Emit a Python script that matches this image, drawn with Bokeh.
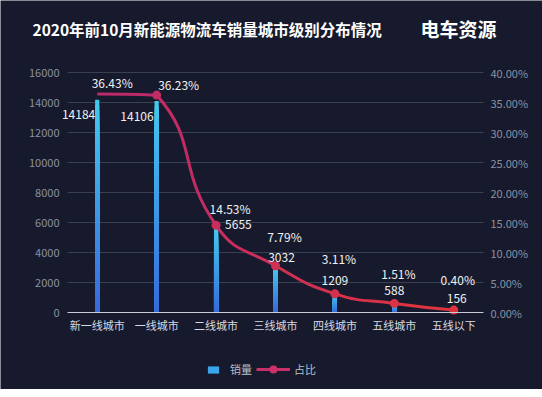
import math
from bokeh.plotting import figure
from bokeh.models import (Range1d, LinearAxis, FixedTicker, PrintfTickFormatter,
                          BasicTickFormatter, Legend, LegendItem, ColumnDataSource)
from bokeh.embed import file_html
from bokeh.resources import INLINE
from bokeh.core.properties import value

# ---------------- data ----------------
categories = ["新一线城市", "一线城市", "二线城市", "三线城市", "四线城市", "五线城市", "五线以下"]
sales = [14184, 14106, 5655, 3032, 1209, 588, 156]
share = [36.43, 36.23, 14.53, 7.79, 3.11, 1.51, 0.40]
left_ticks = [0, 2000, 4000, 6000, 8000, 10000, 12000, 14000, 16000]
right_ticks = [0, 5, 10, 15, 20, 25, 30, 35, 40]
title_text = "2020年前10月新能源物流车销量城市级别分布情况"
logo_text = "电车资源"
series_names = ["销量", "占比"]

# ---------------- style / layout ----------------
BG = "#161a2c"
FONT = "Noto Sans CJK SC"
GRID = "#394050"
TICK_TXT = "#8a91a3"
BAR_TOP = (0x44, 0xc8, 0xf0)
BAR_BOT = (0x36, 0x68, 0xda)
LINE_TOP = (0xbc, 0x2a, 0x6c)
LINE_BOT = (0xde, 0x34, 0x40)
W, H = 542, 389
n = len(categories)
PL, PR, PT, PB = 67, 483, 72, 312          # plot area in px
PPC = (PR - PL) / n                        # px per category
YMAX, PMAX = 16000, 40
PPY = (PB - PT) / YMAX                     # px per unit (left)
PPP = (PB - PT) / PMAX                     # px per percent

def mix(a, b, t):
    return "#%02x%02x%02x" % tuple(int(round(a[k] + (b[k] - a[k]) * t)) for k in range(3))

xr = Range1d(-PL / PPC, n + (W - PR) / PPC)
yr = Range1d(-(H - PB) / PPY, YMAX + PT / PPY)
pr = Range1d(-(H - PB) / PPP, PMAX + PT / PPP)
def dx(px): return (px - PL) / PPC        # page px -> x data
def dy(py): return (PB - py) / PPY        # page px -> y data

xc = [i + 0.5 for i in range(n)]

p = figure(width=W, height=H, x_range=xr, y_range=yr, output_backend="svg",
           toolbar_location=None, background_fill_color=BG, border_fill_color=BG,
           outline_line_color=None, min_border=0)
p.extra_y_ranges = {"pct": pr}

# axes pinned to the plot-area edges
xa = p.xaxis[0]
xa.fixed_location = 0
xa.bounds = (0, n)
xa.ticker = FixedTicker(ticks=xc)
xa.major_label_overrides = {x: c for x, c in zip(xc, categories)}
xa.axis_line_color = "#c9ccd6"
xa.axis_line_width = 1
xa.major_tick_line_color = None
xa.minor_tick_line_color = None
xa.major_tick_out = 0
xa.major_tick_in = 0
xa.major_label_text_color = "#d6d9e1"
xa.major_label_text_font = FONT
xa.major_label_text_font_size = "11px"
xa.major_label_standoff = 4

ya = p.yaxis[0]
ya.fixed_location = 0
ya.bounds = (0, YMAX)
ya.ticker = FixedTicker(ticks=left_ticks)
ya.formatter = BasicTickFormatter(use_scientific=False)
ax_r = LinearAxis(y_range_name="pct", ticker=FixedTicker(ticks=right_ticks),
                  formatter=PrintfTickFormatter(format="%.2f%%"), fixed_location=n,
                  bounds=(0, PMAX))
p.add_layout(ax_r, "right")
for ax in (ya, ax_r):
    ax.axis_line_color = None
    ax.major_tick_line_color = None
    ax.minor_tick_line_color = None
    ax.major_tick_out = 0
    ax.major_tick_in = 0
    ax.major_label_text_color = TICK_TXT
    ax.major_label_text_font = FONT
    ax.major_label_text_font_size = "11px"
ya.major_label_standoff = 8
ax_r.major_label_standoff = 7
p.grid.visible = False

# grid lines across the category span
gt = left_ticks[1:]
p.segment(x0=[0] * len(gt), x1=[n] * len(gt), y0=gt, y1=gt, line_color=GRID, line_width=1)

# gradient bars
N = 40
bx, bt, bc = [], [], []
for j in range(N):
    f = (N - j) / N
    for i in range(n):
        bx.append(xc[i]); bt.append(sales[i] * f); bc.append(mix(BAR_BOT, BAR_TOP, f))
p.vbar(x="x", top="top", bottom=0, width=0.07, fill_color="c", line_color=None,
       source=ColumnDataSource(dict(x=bx, top=bt, c=bc)))

# smooth line (echarts-like bezier through the data points)
SX, SY = PPC, PPP
pts = [(i * SX, s * SY) for i, s in enumerate(share)]
xmin = min(q[0] for q in pts); xmax = max(q[0] for q in pts)
ymin = min(q[1] for q in pts); ymax = max(q[1] for q in pts)
def clamp(q):
    return (min(max(q[0], xmin), xmax), min(max(q[1], ymin), ymax))
smooth = 0.5
segs = []
cp0 = pts[0]
for i in range(1, n):
    pt = pts[i]; prev = pts[i - 1]
    if i < n - 1:
        nxt = pts[i + 1]
        v = (nxt[0] - prev[0], nxt[1] - prev[1])
        lp = math.dist(pt, prev); ln = math.dist(pt, nxt)
        r = ln / (ln + lp)
        cp1 = clamp((pt[0] - v[0] * smooth * (1 - r), pt[1] - v[1] * smooth * (1 - r)))
        ncp0 = clamp((pt[0] + v[0] * smooth * r, pt[1] + v[1] * smooth * r))
    else:
        cp1 = pt; ncp0 = pt
    segs.append((prev, clamp(cp0), cp1, pt))
    cp0 = ncp0

def tx(X): return X / SX + 0.5
def ty(Y): return Y / SY
bez = dict(x0=[], y0=[], x1=[], y1=[], cx0=[], cy0=[], cx1=[], cy1=[], c=[])
for k, (a, c0, c1, b) in enumerate(segs):
    bez["x0"].append(tx(a[0])); bez["y0"].append(ty(a[1]))
    bez["cx0"].append(tx(c0[0])); bez["cy0"].append(ty(c0[1]))
    bez["cx1"].append(tx(c1[0])); bez["cy1"].append(ty(c1[1]))
    bez["x1"].append(tx(b[0])); bez["y1"].append(ty(b[1]))
    bez["c"].append(mix(LINE_TOP, LINE_BOT, k / (len(segs) - 1)))
p.bezier(x0="x0", y0="y0", x1="x1", y1="y1", cx0="cx0", cy0="cy0", cx1="cx1", cy1="cy1",
         line_color="c", line_width=3, y_range_name="pct", source=ColumnDataSource(bez))

mk_c = [mix(LINE_TOP, LINE_BOT, min(1, i / (n - 1) * 1.1)) for i in range(n)]
p.scatter(x=xc[1:], y=share[1:], size=9, fill_color=mk_c[1:], line_color=None,
          y_range_name="pct")

# data labels
val_dx = [-2, -3, 9, 6, 0, 0, 3]
val_dy = [15, 16, -3, -10, -14, -13, -12]
val_al = ["right", "right", "left", "center", "center", "center", "center"]
p.text(x="x", y="y", text="t", x_offset="dx", y_offset="dy", text_align="al",
       text_baseline="middle", text_color="#f2f2f2", text_font=value(FONT),
       text_font_size="12px",
       source=ColumnDataSource(dict(x=xc, y=sales, t=[str(s) for s in sales],
                                    dx=val_dx, dy=val_dy, al=val_al)))
pct_dx = [15, 22, 14, 9, 4, 4, 4]
pct_dy = [-11, -11, -17, -29, -35, -30, -31]
p.text(x="x", y="y", text="t", x_offset="dx", y_offset="dy", text_align="center",
       text_baseline="middle", text_color="#f2f2f2", text_font=value(FONT),
       text_font_size="12px", y_range_name="pct",
       source=ColumnDataSource(dict(x=xc, y=share, t=["%.2f%%" % s for s in share],
                                    dx=pct_dx, dy=pct_dy)))

# title and logo
p.text(x=[dx(32)], y=[dy(28)], text=[title_text], text_font=value(FONT),
       text_font_size="15.5px", text_font_style="bold", text_color="#ffffff",
       text_baseline="middle")
p.text(x=[dx(420)], y=[dy(28)], text=[logo_text], text_font=value(FONT),
       text_font_size="19px", text_font_style="bold", text_color="#ffffff",
       text_baseline="middle")

# legend (proxy renderers placed outside the visible range)
off = [-1000]
r_bar = p.vbar(x=off, top=[1], width=0.5, fill_color="#3aa6ea", line_color=None)
r_line = p.line(x=off, y=[1], line_color="#c8306a", line_width=3)
r_mk = p.scatter(x=off, y=[1], fill_color="#cc326a", line_color=None, size=9)
common = dict(padding=0, margin=0, border_line_color=None, background_fill_alpha=0,
              label_text_color="#b9bec9", label_text_font=FONT, label_text_font_size="11px",
              spacing=0)
leg1 = Legend(items=[LegendItem(label=series_names[0], renderers=[r_bar])],
              location=(206, 12), glyph_width=14, glyph_height=9, label_standoff=10,
              label_height=9, **common)
leg2 = Legend(items=[LegendItem(label=series_names[1], renderers=[r_line, r_mk])],
              location=(256, 10), glyph_width=34, glyph_height=20, label_standoff=4,
              **common)
p.add_layout(leg1)
p.add_layout(leg2)

open("out.html", "w").write(file_html(p, INLINE))
